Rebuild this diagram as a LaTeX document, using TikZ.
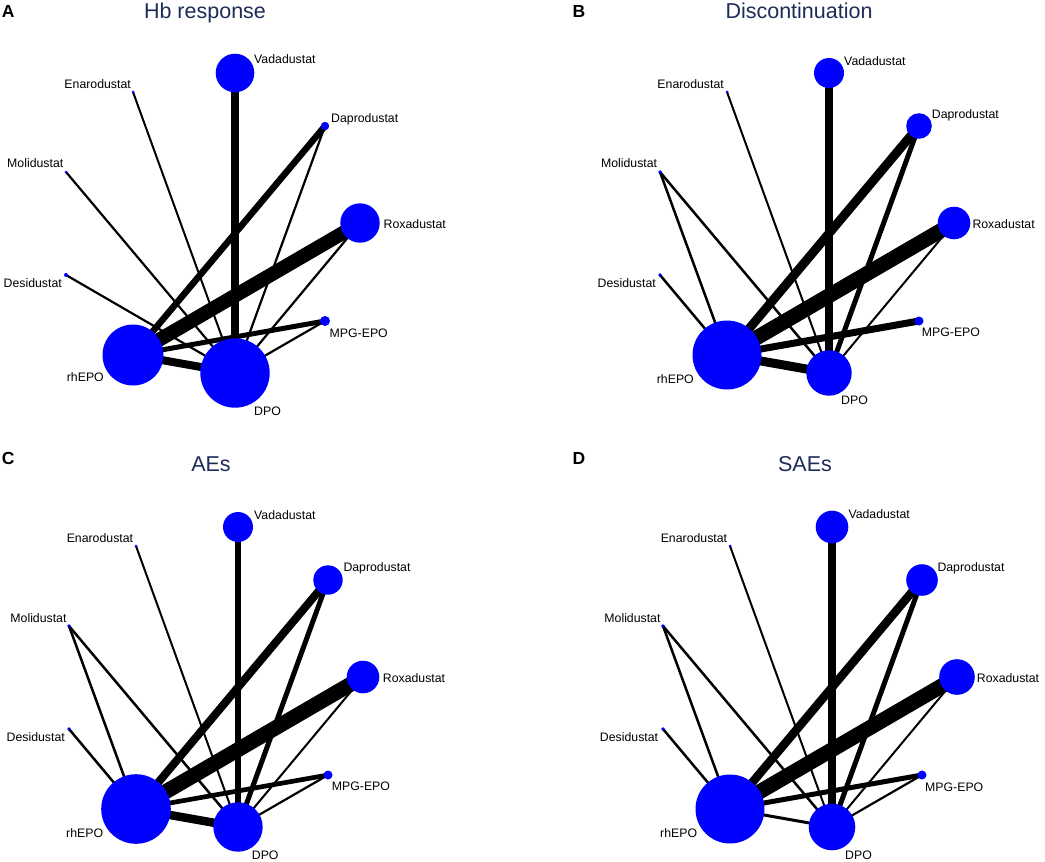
\documentclass[tikz,border=0pt]{standalone}
\usepackage{fontspec}
\setmainfont{Liberation Sans}
\definecolor{drugblue}{RGB}{0,0,255}
\definecolor{titlenavy}{RGB}{30,44,88}
\tikzset{
  spot/.style={inner sep=0pt, outer sep=0pt, minimum size=0pt},
  link/.style={draw=black, line width=#1},
  link/.default=2.2pt,
  drug/.style={fill=drugblue},
  lbl/.style={inner sep=0pt, font=\fontsize{12.3}{14}\selectfont},
  ttl/.style={inner sep=0pt, text=titlenavy, font=\fontsize{21.5}{25}\selectfont},
  panel/.style={inner sep=0pt, anchor=base west, font=\fontsize{17.5}{20}\selectfont\bfseries}
}
\begin{document}
\begin{tikzpicture}[x=1pt,y=-1pt]

\fill[white] (0,0) rectangle (1045,862);
\useasboundingbox (0,0) rectangle (1045,862);

\node[panel] (letA) at (1.7,17.3) {A};
\node[panel] (letB) at (572.3,17.3) {B};
\node[panel] (letC) at (1.7,464) {C};
\node[panel] (letD) at (572.3,464.5) {D};

\node[ttl, anchor=base] (ttlA) at (205,18.5) {Hb response};
\node[ttl, anchor=base] (ttlB) at (799,18.5) {Discontinuation};
\node[ttl, anchor=base] (ttlC) at (211,471.5) {AEs};
\node[ttl, anchor=base] (ttlD) at (805,471.5) {SAEs};

% A
\node[spot] (hbVad) at (235,73) {};
\node[spot] (hbEna) at (133,92) {};
\node[spot] (hbDap) at (325,126) {};
\node[spot] (hbMol) at (66,172) {};
\node[spot] (hbRox) at (360,223) {};
\node[spot] (hbDes) at (66,275) {};
\node[spot] (hbMPG) at (325,321) {};
\node[spot] (hbRh) at (133,355) {};
\node[spot] (hbDPO) at (235,373) {};

\draw[link=8pt] (hbVad) -- (hbDPO);
\draw[link=2pt] (hbEna) -- (hbDPO);
\draw[link=6.5pt] (hbDap) -- (hbRh);
\draw[link] (hbDap) -- (hbDPO);
\draw[link] (hbMol) -- (hbDPO);
\draw[link=14pt] (hbRox) -- (hbRh);
\draw[link] (hbRox) -- (hbDPO);
\draw[link] (hbDes) -- (hbDPO);
\draw[link=5pt] (hbMPG) -- (hbRh);
\draw[link] (hbMPG) -- (hbDPO);
\draw[link=8pt] (hbRh) -- (hbDPO);

\fill[drug] (hbVad) circle (19.3pt);
\fill[drug] (hbEna) circle (1.5pt);
\fill[drug] (hbDap) circle (4.2pt);
\fill[drug] (hbMol) circle (1.5pt);
\fill[drug] (hbRox) circle (19.7pt);
\fill[drug] (hbDes) circle (2pt);
\fill[drug] (hbMPG) circle (5pt);
\fill[drug] (hbRh) circle (30.5pt);
\fill[drug] (hbDPO) circle (34.7pt);

\node[lbl, anchor=base west] (hbVadL) at (254,63.5) {Vadadustat};
\node[lbl, anchor=base east] (hbEnaL) at (131,88.8) {Enarodustat};
\node[lbl, anchor=base west] (hbDapL) at (331,122.8) {Daprodustat};
\node[lbl, anchor=base east] (hbMolL) at (63.5,167.8) {Molidustat};
\node[lbl, anchor=base west] (hbRoxL) at (383.5,228.5) {Roxadustat};
\node[lbl, anchor=base east] (hbDesL) at (62,287.8) {Desidustat};
\node[lbl, anchor=base west] (hbMPGL) at (329.5,337.8) {MPG-EPO};
\node[lbl, anchor=base east] (hbRhL) at (104,381.8) {rhEPO};
\node[lbl, anchor=base west] (hbDPOL) at (254,415.2) {DPO};

% B
\node[spot] (dcVad) at (829,73) {};
\node[spot] (dcEna) at (727,92) {};
\node[spot] (dcDap) at (919,126) {};
\node[spot] (dcMol) at (660,172) {};
\node[spot] (dcRox) at (954,223) {};
\node[spot] (dcDes) at (660,275) {};
\node[spot] (dcMPG) at (919,321) {};
\node[spot] (dcRh) at (727,355) {};
\node[spot] (dcDPO) at (829,373) {};

\draw[link=8pt] (dcVad) -- (dcDPO);
\draw[link=2pt] (dcEna) -- (dcDPO);
\draw[link=9pt] (dcDap) -- (dcRh);
\draw[link=5pt] (dcDap) -- (dcDPO);
\draw[link=2.5pt] (dcMol) -- (dcRh);
\draw[link=2.5pt] (dcMol) -- (dcDPO);
\draw[link=15pt] (dcRox) -- (dcRh);
\draw[link=2pt] (dcRox) -- (dcDPO);
\draw[link=2.5pt] (dcDes) -- (dcRh);
\draw[link=7pt] (dcMPG) -- (dcRh);
\draw[link=9pt] (dcRh) -- (dcDPO);

\fill[drug] (dcVad) circle (15pt);
\fill[drug] (dcEna) circle (1.5pt);
\fill[drug] (dcDap) circle (12.8pt);
\fill[drug] (dcMol) circle (1.8pt);
\fill[drug] (dcRox) circle (16.3pt);
\fill[drug] (dcDes) circle (1.8pt);
\fill[drug] (dcMPG) circle (4.5pt);
\fill[drug] (dcRh) circle (34.5pt);
\fill[drug] (dcDPO) circle (22.7pt);

\node[lbl, anchor=base west] (dcVadL) at (844,65.5) {Vadadustat};
\node[lbl, anchor=base east] (dcEnaL) at (724,88.8) {Enarodustat};
\node[lbl, anchor=base west] (dcDapL) at (931.7,118.5) {Daprodustat};
\node[lbl, anchor=base east] (dcMolL) at (657.3,167.8) {Molidustat};
\node[lbl, anchor=base west] (dcRoxL) at (972.3,228.5) {Roxadustat};
\node[lbl, anchor=base east] (dcDesL) at (656,287.8) {Desidustat};
\node[lbl, anchor=base west] (dcMPGL) at (921.7,336.8) {MPG-EPO};
\node[lbl, anchor=base east] (dcRhL) at (694,383.5) {rhEPO};
\node[lbl, anchor=base west] (dcDPOL) at (841,404.5) {DPO};

% C
\node[spot] (aeVad) at (238,527) {};
\node[spot] (aeEna) at (136,546) {};
\node[spot] (aeDap) at (328,580) {};
\node[spot] (aeMol) at (69,626) {};
\node[spot] (aeRox) at (363,677) {};
\node[spot] (aeDes) at (69,729) {};
\node[spot] (aeMPG) at (328,775) {};
\node[spot] (aeRh) at (136,809) {};
\node[spot] (aeDPO) at (238,827) {};

\draw[link=5.5pt] (aeVad) -- (aeDPO);
\draw[link=2pt] (aeEna) -- (aeDPO);
\draw[link=8pt] (aeDap) -- (aeRh);
\draw[link=5pt] (aeDap) -- (aeDPO);
\draw[link=2.5pt] (aeMol) -- (aeRh);
\draw[link=2.5pt] (aeMol) -- (aeDPO);
\draw[link=15pt] (aeRox) -- (aeRh);
\draw[link=2pt] (aeRox) -- (aeDPO);
\draw[link=2.5pt] (aeDes) -- (aeRh);
\draw[link=4.7pt] (aeMPG) -- (aeRh);
\draw[link] (aeMPG) -- (aeDPO);
\draw[link=8.5pt] (aeRh) -- (aeDPO);

\fill[drug] (aeVad) circle (15pt);
\fill[drug] (aeEna) circle (1.5pt);
\fill[drug] (aeDap) circle (14.7pt);
\fill[drug] (aeMol) circle (1.8pt);
\fill[drug] (aeRox) circle (16.3pt);
\fill[drug] (aeDes) circle (1.8pt);
\fill[drug] (aeMPG) circle (4.5pt);
\fill[drug] (aeRh) circle (34.8pt);
\fill[drug] (aeDPO) circle (24.7pt);

\node[lbl, anchor=base west] (aeVadL) at (254,519.5) {Vadadustat};
\node[lbl, anchor=base east] (aeEnaL) at (133.3,542.8) {Enarodustat};
\node[lbl, anchor=base west] (aeDapL) at (343.3,571.2) {Daprodustat};
\node[lbl, anchor=base east] (aeMolL) at (66.7,622.2) {Molidustat};
\node[lbl, anchor=base west] (aeRoxL) at (382.7,682.2) {Roxadustat};
\node[lbl, anchor=base east] (aeDesL) at (65,741.2) {Desidustat};
\node[lbl, anchor=base west] (aeMPGL) at (331.7,790.5) {MPG-EPO};
\node[lbl, anchor=base east] (aeRhL) at (103.3,837.2) {rhEPO};
\node[lbl, anchor=base west] (aeDPOL) at (251.7,859.5) {DPO};

% D
\node[spot] (saeVad) at (832,527) {};
\node[spot] (saeEna) at (730,546) {};
\node[spot] (saeDap) at (922,580) {};
\node[spot] (saeMol) at (663,626) {};
\node[spot] (saeRox) at (957,677) {};
\node[spot] (saeDes) at (663,729) {};
\node[spot] (saeMPG) at (922,775) {};
\node[spot] (saeRh) at (730,809) {};
\node[spot] (saeDPO) at (832,827) {};

\draw[link=7.5pt] (saeVad) -- (saeDPO);
\draw[link=2pt] (saeEna) -- (saeDPO);
\draw[link=8.5pt] (saeDap) -- (saeRh);
\draw[link=5pt] (saeDap) -- (saeDPO);
\draw[link=2.5pt] (saeMol) -- (saeRh);
\draw[link=2.5pt] (saeMol) -- (saeDPO);
\draw[link=15pt] (saeRox) -- (saeRh);
\draw[link=2pt] (saeRox) -- (saeDPO);
\draw[link=2.5pt] (saeDes) -- (saeRh);
\draw[link=5pt] (saeMPG) -- (saeRh);
\draw[link] (saeMPG) -- (saeDPO);
\draw[link=3pt] (saeRh) -- (saeDPO);

\fill[drug] (saeVad) circle (16.3pt);
\fill[drug] (saeEna) circle (1.5pt);
\fill[drug] (saeDap) circle (15.8pt);
\fill[drug] (saeMol) circle (1.8pt);
\fill[drug] (saeRox) circle (17.8pt);
\fill[drug] (saeDes) circle (1.8pt);
\fill[drug] (saeMPG) circle (4.5pt);
\fill[drug] (saeRh) circle (34.5pt);
\fill[drug] (saeDPO) circle (23.3pt);

\node[lbl, anchor=base west] (saeVadL) at (848.3,518.8) {Vadadustat};
\node[lbl, anchor=base east] (saeEnaL) at (727.3,542.8) {Enarodustat};
\node[lbl, anchor=base west] (saeDapL) at (937.3,571.2) {Daprodustat};
\node[lbl, anchor=base east] (saeMolL) at (660.7,622.2) {Molidustat};
\node[lbl, anchor=base west] (saeRoxL) at (976.7,682.2) {Roxadustat};
\node[lbl, anchor=base east] (saeDesL) at (658.3,741.2) {Desidustat};
\node[lbl, anchor=base west] (saeMPGL) at (925,791.2) {MPG-EPO};
\node[lbl, anchor=base east] (saeRhL) at (697.3,837.2) {rhEPO};
\node[lbl, anchor=base west] (saeDPOL) at (845,859.5) {DPO};

\end{tikzpicture}
\end{document}
